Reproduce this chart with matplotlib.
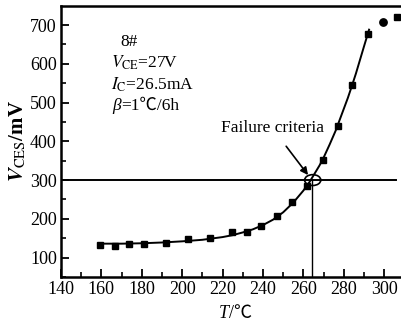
import matplotlib
matplotlib.use("Agg")
import matplotlib.pyplot as plt
from matplotlib.patches import Ellipse
from matplotlib.ticker import MultipleLocator

plt.rcParams['font.family'] = ['Liberation Serif', 'Noto Sans CJK SC', 'DejaVu Sans']
plt.rcParams['mathtext.fontset'] = 'stix'

# measured data (squares)
T_meas = [159.5, 166.7, 173.8, 181.0, 191.8, 202.7, 213.8, 224.8, 231.9, 239.2,
          246.8, 254.5, 262.0, 269.5, 277.0, 284.2, 291.8, 306.5]
V_meas = [132, 129, 135, 135, 139, 148, 151, 166, 165, 182,
          208, 243, 284, 353, 440, 546, 677, 721]
# outlier point (circle)
T_circ = [299.6]
V_circ = [708]
# fitted curve
T_fit = [160, 170, 180, 190, 200, 210, 220, 225, 230, 235, 240, 245, 250, 255,
         260, 263, 265, 268, 270, 273, 276, 279, 282, 284, 286, 288, 290, 292.5]
V_fit = [136, 136, 137, 139, 142, 146, 153, 158, 165, 173, 184, 198, 217, 242,
         273, 295, 312, 338, 358, 392, 428, 470, 512, 543, 575, 610, 645, 688]

criterion_V = 300
criterion_T = 264.3
x_ticks = [140, 160, 180, 200, 220, 240, 260, 280, 300]
y_ticks = [100, 200, 300, 400, 500, 600, 700]

fig = plt.figure(figsize=(4.02, 3.23), dpi=100)
ax = fig.add_axes([0.1517, 0.1424, 0.8483, 0.839])

ax.plot(T_fit, V_fit, color='black', lw=1.4, zorder=2)
ax.plot(T_meas, V_meas, ls='none', marker='s', ms=5, color='black', zorder=3)
ax.plot(T_circ, V_circ, ls='none', marker='o', ms=5.3, color='black', zorder=3)

ax.plot([140, 306], [criterion_V, criterion_V], color='black', lw=1.4, zorder=1)
ax.plot([criterion_T, criterion_T], [50, criterion_V], color='black', lw=1.0, zorder=1)
ax.add_patch(Ellipse((264.6, 300), 8.0, 28, fill=False, ec='black', lw=1.2, zorder=4))

ax.annotate('Failure criteria', xy=(262.3, 313), xytext=(244.5, 435),
            ha='center', va='center', fontsize=12.5,
            arrowprops=dict(arrowstyle='-|>', color='black', lw=1.2,
                            mutation_scale=11, shrinkA=7, shrinkB=0))

FS = 12.5
ax.text(169.2, 657, '8#', fontsize=FS, ha='left', va='center')
ax.text(165.0, 603, r'$V_{\mathrm{CE}}$=27V', fontsize=FS, ha='left', va='center')
ax.text(165.0, 546, r'$I_{\mathrm{C}}$=26.5mA', fontsize=FS, ha='left', va='center')

beta = ax.text(165.5, 492, 'β', fontsize=FS, fontstyle='italic', ha='left', va='center')
ax.annotate('=1℃/6h', xy=(1, 0), xycoords=beta, va='bottom', ha='left', fontsize=FS)

tl = fig.text(219 / 402, 1 - 314 / 323, 'T', fontsize=13, fontstyle='italic', ha='left', va='center')
ax.annotate('/℃', xy=(1, 0), xycoords=tl, va='bottom', ha='left', fontsize=13)

ax.set_xlim(140, 308.8)
ax.set_ylim(50, 749)
ax.set_xticks(x_ticks)
ax.set_yticks(y_ticks)
ax.xaxis.set_minor_locator(MultipleLocator(10))
ax.yaxis.set_minor_locator(MultipleLocator(50))
ax.tick_params(which='major', direction='in', length=6, width=1.3, labelsize=13, pad=3)
ax.tick_params(which='minor', direction='in', length=3.5, width=1.2)
ax.tick_params(top=False, right=False, which='both')

for s in ['left', 'bottom', 'top']:
    ax.spines[s].set_linewidth(1.8)
ax.spines['right'].set_visible(False)

ax.set_ylabel(r'$\mathbfit{V}_{\mathrm{CES}}$/mV', fontsize=15, fontweight='bold', labelpad=1)

fig.savefig('out.png', dpi=100)
